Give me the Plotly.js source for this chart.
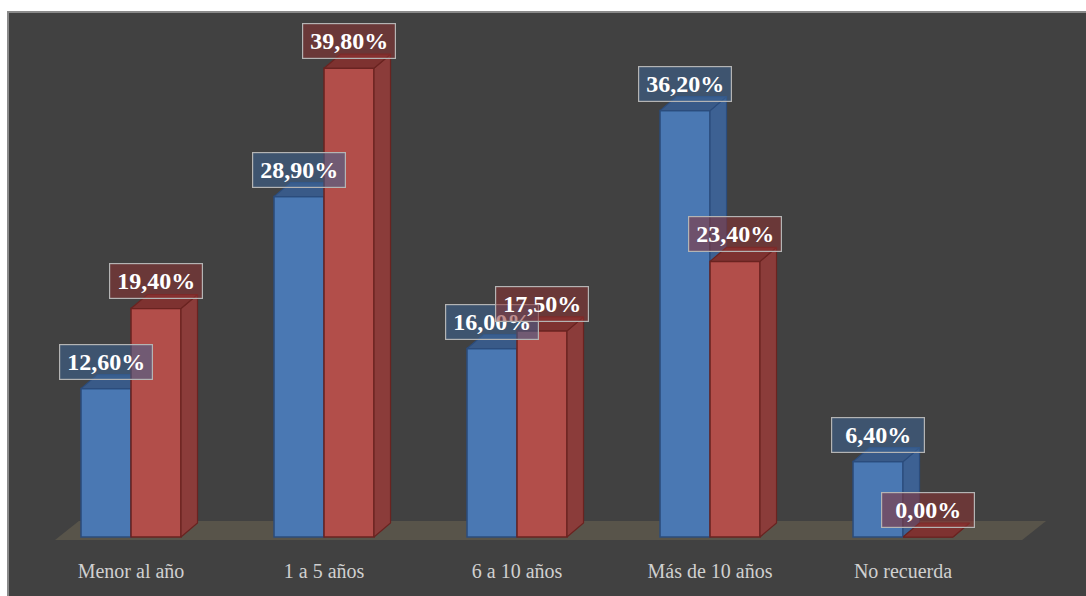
<!DOCTYPE html>
<html>
<head>
<meta charset="utf-8">
<script src="https://cdn.plot.ly/plotly-3.0.1.min.js"></script>
<style>
  html, body { margin: 0; padding: 0; background: #ffffff; width: 1086px; height: 596px; overflow: hidden; }
  #frame { position: absolute; left: 7px; top: 11px; right: 0; bottom: 0; background: #414141;
           border-left: 2px solid #8a8a8a; border-top: 2px solid #8a8a8a; }
  #chart { position: absolute; left: 0; top: 0; width: 1086px; height: 596px; }
</style>
</head>
<body>
<div id="frame"></div>
<div id="chart"></div>
<script>
// ---- data ----
const categories = ["Menor al año", "1 a 5 años", "6 a 10 años", "Más de 10 años", "No recuerda"];
const seriesBlue = [12.6, 28.9, 16.0, 36.2, 6.4];
const seriesRed  = [19.4, 39.8, 17.5, 23.4, 0.0];
const labelsBlue = ["12,60%", "28,90%", "16,00%", "36,20%", "6,40%"];
const labelsRed  = ["19,40%", "39,80%", "17,50%", "23,40%", "0,00%"];

// ---- geometry / style ----
const idx = categories.map((_, i) => i);
const BW = 0.259;          // bar width in category units
const DX = 0.0855;         // depth offset (x, data units)
const DY = 1.19;           // depth offset (y, data units)
const XR = [-0.6788, 4.948];
const YR = [-1.273, 45.59];

function sidePoly(vals, x0off) {
  const xs = [], ys = [];
  vals.forEach((v, i) => {
    const x1 = i + x0off + BW;
    xs.push(x1, x1 + DX, x1 + DX, x1, x1, null);
    ys.push(0, DY, v + DY, v, 0, null);
  });
  return {xs, ys};
}
function topPoly(vals, x0off) {
  const xs = [], ys = [];
  vals.forEach((v, i) => {
    const x0 = i + x0off, x1 = x0 + BW;
    xs.push(x0, x1, x1 + DX, x0 + DX, x0, null);
    ys.push(v, v, v + DY, v + DY, v, null);
  });
  return {xs, ys};
}

const blueSide = sidePoly(seriesBlue, -BW), blueTop = topPoly(seriesBlue, -BW);
const redSide = sidePoly(seriesRed, 0), redTop = topPoly(seriesRed, 0);

const traces = [
  {type: 'bar', x: idx, y: seriesBlue, width: BW, offset: -BW, xaxis: 'x', yaxis: 'y',
   marker: {color: '#4a78b3', line: {color: '#2b4c7c', width: 1.5}}, hoverinfo: 'skip', showlegend: false},
  {type: 'scatter', mode: 'lines', x: blueSide.xs, y: blueSide.ys, fill: 'toself', fillcolor: '#3d6193',
   line: {color: '#2b4c7c', width: 1.2}, xaxis: 'x', yaxis: 'y', hoverinfo: 'skip', showlegend: false},
  {type: 'scatter', mode: 'lines', x: blueTop.xs, y: blueTop.ys, fill: 'toself', fillcolor: '#395a88',
   line: {color: '#2b4c7c', width: 1.2}, xaxis: 'x', yaxis: 'y', hoverinfo: 'skip', showlegend: false},

  {type: 'bar', x: idx, y: seriesRed, width: BW, offset: 0, xaxis: 'x2', yaxis: 'y2',
   marker: {color: '#b24e4a', line: {color: '#6a2320', width: 1.5}}, hoverinfo: 'skip', showlegend: false},
  {type: 'scatter', mode: 'lines', x: redSide.xs, y: redSide.ys, fill: 'toself', fillcolor: '#8b3c3a',
   line: {color: '#6a2320', width: 1.2}, xaxis: 'x2', yaxis: 'y2', hoverinfo: 'skip', showlegend: false},
  {type: 'scatter', mode: 'lines', x: redTop.xs, y: redTop.ys, fill: 'toself', fillcolor: '#7e3230',
   line: {color: '#6a2320', width: 1.2}, xaxis: 'x2', yaxis: 'y2', hoverinfo: 'skip', showlegend: false}
];

const annFont = {family: 'Liberation Serif, Times New Roman, serif', size: 24, color: '#ffffff', weight: 'bold'};
const annotations = [];
seriesBlue.forEach((v, i) => annotations.push({
  x: i - BW / 2, y: v, xref: 'x', yref: 'y', text: '<b>' + labelsBlue[i] + '</b>', showarrow: false,
  yshift: 27, xanchor: 'center', yanchor: 'middle', width: 86, height: 28, borderpad: 3,
  bgcolor: 'rgba(60,100,150,0.55)', bordercolor: '#b4b4b4', borderwidth: 1.2, font: annFont
}));
seriesRed.forEach((v, i) => annotations.push({
  x: i + BW / 2, y: v, xref: 'x', yref: 'y', text: '<b>' + labelsRed[i] + '</b>', showarrow: false,
  yshift: 27, xanchor: 'center', yanchor: 'middle', width: 86, height: 28, borderpad: 3,
  bgcolor: 'rgba(140,50,50,0.55)', bordercolor: '#b4b4b4', borderwidth: 1.2, font: annFont
}));

const n = categories.length;
const fl = -0.394, fr = n - 1 + 0.617, fdx = 0.124, fy0 = -0.255, fy1 = 1.358;
const floorPath = `M ${fl} ${fy0} L ${fr} ${fy0} L ${fr + fdx} ${fy1} L ${fl + fdx} ${fy1} Z`;

const layout = {
  width: 1086, height: 596,
  margin: {l: 0, r: 0, t: 0, b: 44, pad: 0},
  paper_bgcolor: 'rgba(0,0,0,0)', plot_bgcolor: 'rgba(0,0,0,0)',
  barmode: 'overlay',
  showlegend: false,
  xaxis: {range: XR, tickmode: 'array', tickvals: idx, ticktext: categories, showgrid: false, zeroline: false,
          showline: false, ticks: '', fixedrange: true, ticklabelstandoff: 5,
          tickfont: {family: 'Liberation Serif, Times New Roman, serif', size: 20, color: '#d0d0d0'}},
  yaxis: {range: YR, visible: false, fixedrange: true},
  xaxis2: {range: XR, overlaying: 'x', visible: false, fixedrange: true},
  yaxis2: {range: YR, overlaying: 'y', visible: false, fixedrange: true},
  shapes: [{type: 'path', path: floorPath, xref: 'x', yref: 'y', layer: 'below',
            fillcolor: '#58544a', line: {width: 0}}],
  annotations: annotations
};

Plotly.newPlot('chart', traces, layout, {displayModeBar: false, staticPlot: true});
</script>
</body>
</html>
